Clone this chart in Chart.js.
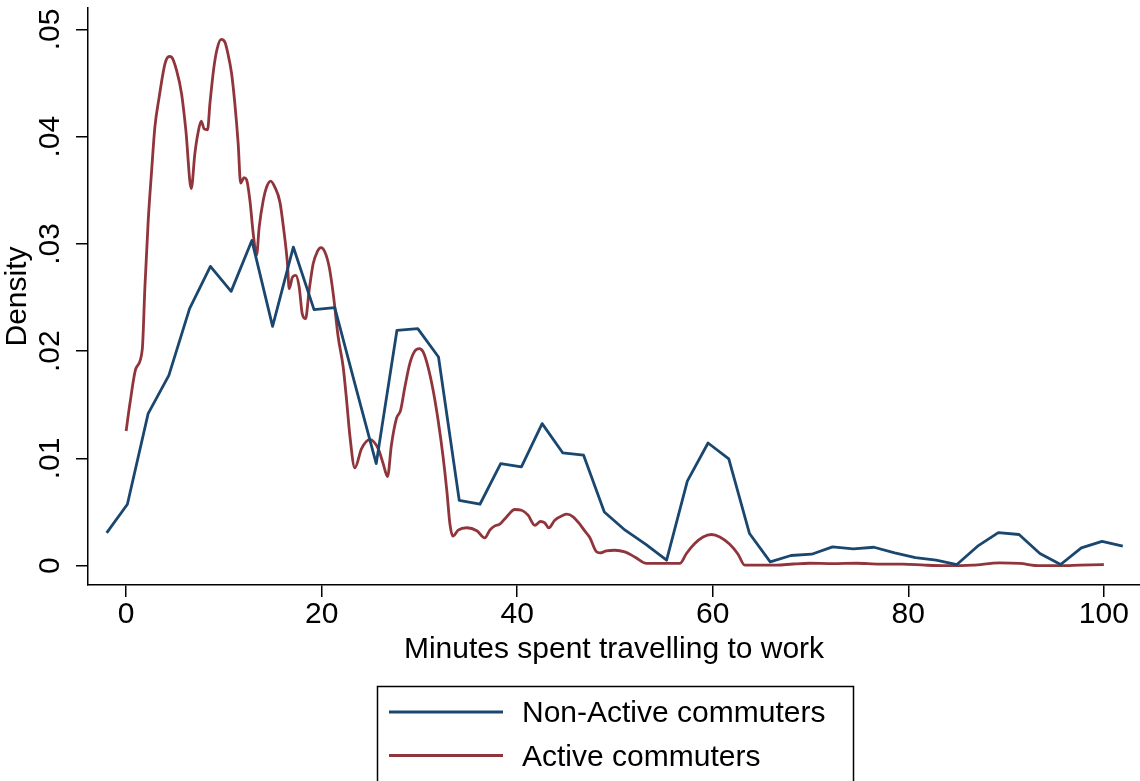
<!DOCTYPE html>
<html>
<head>
<meta charset="utf-8">
<script src="https://cdn.jsdelivr.net/npm/chart.js@4.4.1/dist/chart.umd.min.js"></script>
<style>
  html, body { margin: 0; padding: 0; background: #fff; }
  #wrap { width: 1140px; height: 781px; }
</style>
</head>
<body>
<div id="wrap"><canvas id="chart"></canvas></div>
<script>
// ── Data ────────────────────────────────────────────────────
const xTicks = [0, 20, 40, 60, 80, 100];
const yTicks = [0, 0.01, 0.02, 0.03, 0.04, 0.05];
const yTickLabels = ['0', '.01', '.02', '.03', '.04', '.05'];

// Non-Active commuters: 50 kernel density points
const nonActiveX = [-1.99, 0.13, 2.25, 4.37, 6.49, 8.62, 10.74, 12.86, 14.98, 17.10,
  19.22, 21.34, 23.46, 25.58, 27.70, 29.83, 31.95, 34.07, 36.19, 38.31,
  40.43, 42.55, 44.67, 46.79, 48.91, 51.04, 53.16, 55.28, 57.40, 59.52,
  61.64, 63.76, 65.88, 68.00, 70.12, 72.25, 74.37, 76.49, 78.61, 80.73,
  82.85, 84.97, 87.09, 89.21, 91.33, 93.46, 95.58, 97.70, 99.82, 101.94];
const nonActiveY = [0.00306, 0.00573, 0.01418, 0.01775, 0.02397, 0.02791, 0.02558, 0.03033, 0.02232, 0.02971,
  0.02388, 0.02406, 0.01674, 0.00952, 0.02195, 0.02211, 0.01946, 0.00610, 0.00573, 0.00952,
  0.00921, 0.01325, 0.01051, 0.01030, 0.00501, 0.00331, 0.00198, 0.00051, 0.00788, 0.01144,
  0.00995, 0.00300, 0.00035, 0.00095, 0.00107, 0.00175, 0.00157, 0.00172, 0.00119, 0.00076,
  0.00051, 0.00011, 0.00182, 0.00309, 0.00291, 0.00114, 0.00011, 0.00166, 0.00226, 0.00182];

// Active commuters
const activeX = [0.00, 0.39, 1.00, 1.65, 1.92, 2.26, 2.61, 2.94, 3.38, 3.97,
  4.41, 4.65, 5.16, 5.67, 6.11, 6.66, 7.03, 7.37, 7.68, 7.99,
  8.33, 8.57, 8.98, 9.31, 9.72, 10.10, 10.38, 10.79, 11.12, 11.46,
  11.71, 12.05, 12.32, 12.66, 13.00, 13.34, 13.61, 14.02, 14.37, 14.78,
  15.21, 15.73, 16.13, 16.49, 16.68, 17.02, 17.36, 17.70, 18.01, 18.35,
  18.72, 19.13, 19.54, 19.92, 20.33, 20.77, 21.18, 21.69, 22.20, 22.55,
  22.88, 23.39, 24.08, 24.93, 25.78, 26.29, 26.74, 27.13, 27.66, 28.07,
  28.51, 29.02, 29.53, 29.99, 30.38, 30.89, 31.40, 31.91, 32.42, 32.83,
  33.11, 33.42, 33.96, 34.85, 35.87, 36.69, 37.20, 37.71, 38.22, 38.91,
  39.75, 40.44, 41.11, 41.80, 42.38, 42.82, 43.23, 43.84, 44.69, 45.07,
  45.72, 46.40, 46.91, 47.42, 48.11, 48.45, 49.13, 49.98, 51.00, 52.02,
  53.22, 54.58, 56.63, 57.31, 58.16, 59.01, 59.87, 60.72, 61.74, 62.59,
  63.27, 64.81, 66.51, 68.21, 69.92, 72.27, 74.69, 77.08, 79.43, 81.68,
  83.90, 86.58, 89.35, 91.39, 93.44, 95.48, 97.53, 100.00];
const activeY = [0.01256, 0.01512, 0.01838, 0.02015, 0.02598, 0.03220, 0.03686, 0.04089, 0.04369, 0.04680,
  0.04748, 0.04742, 0.04618, 0.04401, 0.04059, 0.03515, 0.03842, 0.04043, 0.04145, 0.04071,
  0.04065, 0.04308, 0.04649, 0.04820, 0.04907, 0.04882, 0.04788, 0.04587, 0.04308, 0.03935,
  0.03568, 0.03618, 0.03599, 0.03406, 0.03096, 0.02894, 0.03157, 0.03406, 0.03530, 0.03586,
  0.03530, 0.03390, 0.03127, 0.02829, 0.02583, 0.02692, 0.02707, 0.02598, 0.02350, 0.02304,
  0.02568, 0.02816, 0.02925, 0.02965, 0.02925, 0.02785, 0.02537, 0.02132, 0.01853, 0.01542,
  0.01216, 0.00913, 0.01092, 0.01176, 0.01092, 0.00952, 0.00831, 0.01123, 0.01375, 0.01449,
  0.01666, 0.01887, 0.02002, 0.02024, 0.01993, 0.01850, 0.01636, 0.01356, 0.01014, 0.00673,
  0.00393, 0.00275, 0.00331, 0.00354, 0.00326, 0.00259, 0.00331, 0.00371, 0.00387, 0.00455,
  0.00524, 0.00517, 0.00471, 0.00377, 0.00412, 0.00399, 0.00352, 0.00424, 0.00471, 0.00480,
  0.00455, 0.00387, 0.00324, 0.00263, 0.00129, 0.00119, 0.00138, 0.00144, 0.00129, 0.00082,
  0.00021, 0.00021, 0.00021, 0.00114, 0.00207, 0.00268, 0.00291, 0.00268, 0.00200, 0.00107,
  0.00005, 0.00005, 0.00005, 0.00016, 0.00023, 0.00019, 0.00023, 0.00014, 0.00014, 0.00005,
  0.00000, 0.00005, 0.00026, 0.00021, 0.00000, 0.00000, 0.00005, 0.00011];

const FONT = '"Liberation Sans", Arial, Helvetica, sans-serif';
const BLUE = '#1a476f';
const RED = '#90353b';

// ── Plugins: rotated y labels, boxed legend ─────────────────
const yLabels = {
  id: 'yLabels',
  afterDraw(chart) {
    const ctx = chart.ctx, ys = chart.scales.y;
    ctx.save();
    ctx.font = '30px ' + FONT;
    ctx.fillStyle = '#000';
    ctx.textAlign = 'center';
    ctx.textBaseline = 'middle';
    yTicks.forEach((v, i) => {
      ctx.save();
      ctx.translate(51, ys.getPixelForValue(v));
      ctx.rotate(-Math.PI / 2);
      ctx.fillText(yTickLabels[i], 0, 0);
      ctx.restore();
    });
    ctx.restore();
  }
};

const boxLegend = {
  id: 'boxLegend',
  afterDraw(chart) {
    const ctx = chart.ctx;
    ctx.save();
    ctx.strokeStyle = '#000';
    ctx.lineWidth = 1.5;
    ctx.strokeRect(377.5, 686.5, 476, 110);
    ctx.font = '30px ' + FONT;
    ctx.textBaseline = 'middle';
    ctx.textAlign = 'left';
    chart.data.datasets.forEach((ds, i) => {
      const y = 712 + i * 43.5;
      ctx.strokeStyle = ds.borderColor;
      ctx.lineWidth = 2.8;
      ctx.beginPath(); ctx.moveTo(389, y); ctx.lineTo(503, y); ctx.stroke();
      ctx.fillStyle = '#000';
      ctx.fillText(ds.label, 522, y + 2);
    });
    ctx.restore();
  }
};

// ── Chart ───────────────────────────────────────────────────
Chart.defaults.font.family = FONT;
Chart.defaults.color = '#000';

new Chart(document.getElementById('chart'), {
  type: 'line',
  data: {
    datasets: [
      { label: 'Non-Active commuters', data: nonActiveX.map((x, i) => ({ x, y: nonActiveY[i] })),
        borderColor: BLUE, borderWidth: 2.8, pointRadius: 0, tension: 0, borderJoinStyle: 'round' },
      { label: 'Active commuters', data: activeX.map((x, i) => ({ x, y: activeY[i] })),
        borderColor: RED, borderWidth: 2.8, pointRadius: 0, cubicInterpolationMode: 'monotone', borderJoinStyle: 'round' }
    ]
  },
  options: {
    responsive: true, maintainAspectRatio: false, animation: false,
    layout: { padding: { top: 8, right: 0, bottom: 113, left: 0 } },
    plugins: { legend: { display: false }, tooltip: { enabled: false } },
    scales: {
      x: {
        type: 'linear', min: -3.9, max: 103.7,
        afterBuildTicks: s => { s.ticks = xTicks.map(v => ({ value: v })); },
        afterFit: s => { s.height = 83; },
        grid: { drawOnChartArea: false, drawTicks: true, tickLength: 12, color: '#000', lineWidth: 1.5 },
        border: { color: '#000', width: 1.5 },
        ticks: { font: { size: 30 }, color: '#000', padding: 0, maxRotation: 0 },
        title: { display: true, text: 'Minutes spent travelling to work', font: { size: 30 }, color: '#000', padding: 0 }
      },
      y: {
        min: -0.0018, max: 0.052,
        afterBuildTicks: s => { s.ticks = yTicks.map(v => ({ value: v })); },
        afterFit: s => { s.width = 88; },
        grid: { drawOnChartArea: false, drawTicks: true, tickLength: 12, color: '#000', lineWidth: 1.5 },
        border: { color: '#000', width: 1.5 },
        ticks: { display: false },
        title: { display: true, text: 'Density', font: { size: 30 }, color: '#000', padding: 0 }
      }
    }
  },
  plugins: [yLabels, boxLegend]
});
</script>
</body>
</html>
